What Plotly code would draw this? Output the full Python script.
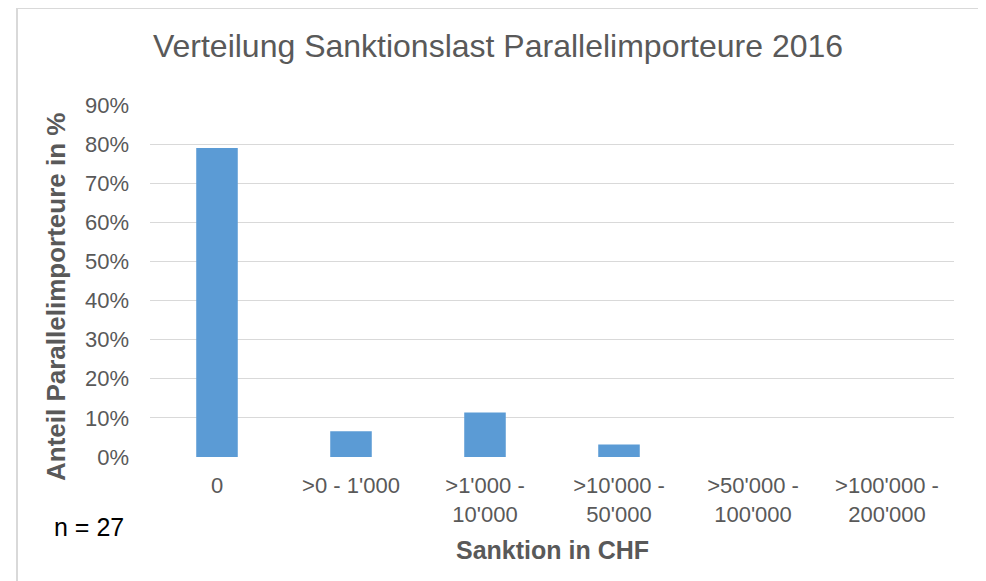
import plotly.graph_objects as go

categories = ["0", ">0 - 1'000", ">1'000 -<br>10'000", ">10'000 -<br>50'000",
              ">50'000 -<br>100'000", ">100'000 -<br>200'000"]
shares = [0.79, 0.066, 0.114, 0.032, 0.0, 0.0]
n_total = 27

W, H = 986, 581
OFF = 8  # page body margin the browser adds around the figure
L, R, T, B = 150 - OFF, 32 + OFF, 105 - OFF, 124 + OFF
pw, ph = W - L - R, H - T - B

def px_x(x):
    # screen x (as in the reference) -> paper coordinate
    return (x - OFF - L) / pw

def px_y(y):
    return (H - B - (y - OFF)) / ph

grey = "#595959"
font = "Liberation Sans, Arial, sans-serif"

fig = go.Figure()
fig.add_trace(go.Bar(x=categories, y=shares, marker_color="#5b9bd5",
                     marker_line_width=0, width=0.31))

fig.update_layout(
    width=W, height=H,
    margin=dict(l=L, r=R, t=T, b=B),
    paper_bgcolor="white", plot_bgcolor="white",
    showlegend=False,
    font=dict(family=font, color=grey, size=22),
    title=dict(text="Verteilung Sanktionslast Parallelimporteure 2016",
               x=px_x(498), xref="paper", xanchor="center",
               y=1 - (46 - OFF) / H, yanchor="middle",
               font=dict(size=32, color=grey, family=font)),
    xaxis=dict(showgrid=False, showline=False, ticks="", ticklabelstandoff=13,
               tickfont=dict(size=22, color=grey)),
    yaxis=dict(range=[0, 0.9], dtick=0.1, tickformat=".0%",
               gridcolor="#d9d9d9", gridwidth=1, zeroline=False,
               showline=False, ticks="", ticklabelstandoff=20,
               tickfont=dict(size=22, color=grey)),
    shapes=[dict(type="rect", xref="paper", yref="paper",
                 x0=px_x(17), x1=px_x(981), y0=px_y(620), y1=px_y(8),
                 line=dict(color="#d9d9d9", width=2), layer="below")],
    annotations=[
        dict(text="<b>Anteil Parallelimporteure in %</b>", textangle=-90,
             xref="paper", yref="paper", x=px_x(56), y=px_y(297),
             xanchor="center", yanchor="middle", showarrow=False,
             font=dict(size=26, color=grey, family=font)),
        dict(text="<b>Sanktion in CHF</b>",
             xref="paper", yref="paper", x=px_x(552), y=px_y(550),
             xanchor="center", yanchor="middle", showarrow=False,
             font=dict(size=25, color=grey, family=font)),
        dict(text=f"n = {n_total}",
             xref="paper", yref="paper", x=px_x(89), y=px_y(527),
             xanchor="center", yanchor="middle", showarrow=False,
             font=dict(size=25, color="black", family=font)),
    ],
)

fig.write_html("out.html")
